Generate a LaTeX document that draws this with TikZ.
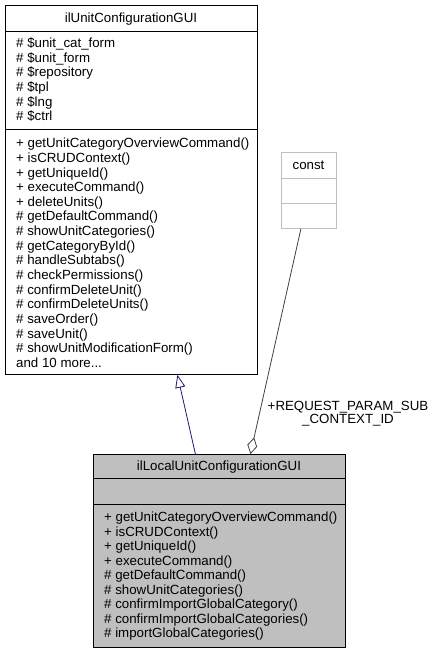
\documentclass[tikz,border=0pt]{standalone}
\usepackage{fontspec}
\setmainfont{Liberation Sans}
\usepackage{tikz}
\usetikzlibrary{arrows.meta}
\definecolor{edgeblue}{HTML}{191970}
\definecolor{boxgray}{HTML}{BFBFBF}
\definecolor{linegray}{HTML}{404040}
\newcommand{\andmore}{and 10 more...}
\tikzset{
    classbox/.style = {draw, line width=0.8pt, inner sep=0, anchor=north west},
    member/.style = {anchor=base west, inner sep=0, font=\fontsize{13.3}{14.65}\selectfont},
    title/.style = {anchor=base, inner sep=0, font=\fontsize{13.3}{14.65}\selectfont},
}

\begin{document}
\begin{tikzpicture}[x=1pt,y=-1pt]
    \useasboundingbox (0,0) rectangle (437,653);
    % base class
    \node (base) at (5,5) [classbox, minimum width=252pt, minimum height=369pt] {};
    \draw[line width=0.8pt] (base.north west) ++(0,26) -- ++(252,0);
    \draw[line width=0.8pt] (base.north west) ++(0,124) -- ++(252,0);
    \node (baset) at (131,22.7) [title] {ilUnitConfigurationGUI};
    \foreach \t [count=\i] in {\# \$unit\_cat\_form, \# \$unit\_form, \# \$repository,
        \# \$tpl, \# \$lng, \# \$ctrl}
        \node (attr\i) at (16,{47.5+14.65*(\i-1)}) [member] {\t};
    \foreach \t [count=\i] in {+ getUnitCategoryOverviewCommand(), + isCRUDContext(),
        + getUniqueId(), + executeCommand(), + deleteUnits(), \# getDefaultCommand(),
        \# showUnitCategories(), \# getCategoryById(), \# handleSubtabs(),
        \# checkPermissions(), \# confirmDeleteUnit(), \# confirmDeleteUnits(),
        \# saveOrder(), \# saveUnit(), \# showUnitModificationForm(), \andmore}
        \node (meth\i) at (16,{147.7+14.65*(\i-1)}) [member] {\t};
    % const
    \node (const) at (281,152) [classbox, draw=boxgray, minimum width=55pt, minimum height=76pt] {};
    \draw[boxgray, line width=0.8pt] (const.north west) ++(0,26) -- ++(55,0);
    \draw[boxgray, line width=0.8pt] (const.north west) ++(0,51) -- ++(55,0);
    \node (constt) at (308.5,169.7) [title] {const};
    % derived class
    \node (derived) at (93,454) [classbox, fill=boxgray, minimum width=252pt, minimum height=193pt] {};
    \draw[line width=0.8pt] (derived.north west) ++(0,24) -- ++(252,0);
    \draw[line width=0.8pt] (derived.north west) ++(0,50) -- ++(252,0);
    \node (derivedt) at (219,470.7) [title] {ilLocalUnitConfigurationGUI};
    \foreach \t [count=\i] in {+ getUnitCategoryOverviewCommand(), + isCRUDContext(),
        + getUniqueId(), + executeCommand(), \# getDefaultCommand(),
        \# showUnitCategories(), \# confirmImportGlobalCategory(),
        \# confirmImportGlobalCategories(), \# importGlobalCategories()}
        \node (dmeth\i) at (104,{521.7+14.5*(\i-1)}) [member] {\t};
    % edges
    \draw[edgeblue, line width=0.8pt, -{Triangle[open, length=13pt, width=10pt]}]
        ([xshift=-24pt]derived.north) -- ([xshift=46pt]base.south);
    \draw[linegray, line width=0.8pt, {Diamond[open, length=17pt, width=10pt]}-]
        ([xshift=31pt]derived.north) -- ([xshift=-8pt]const.south);
    \node (lbl) at (348,413.5) [align=center, inner sep=0, font=\fontsize{13.3}{13.3}\selectfont]
        {+REQUEST\_PARAM\_SUB\\\_CONTEXT\_ID};
\end{tikzpicture}
\end{document}
